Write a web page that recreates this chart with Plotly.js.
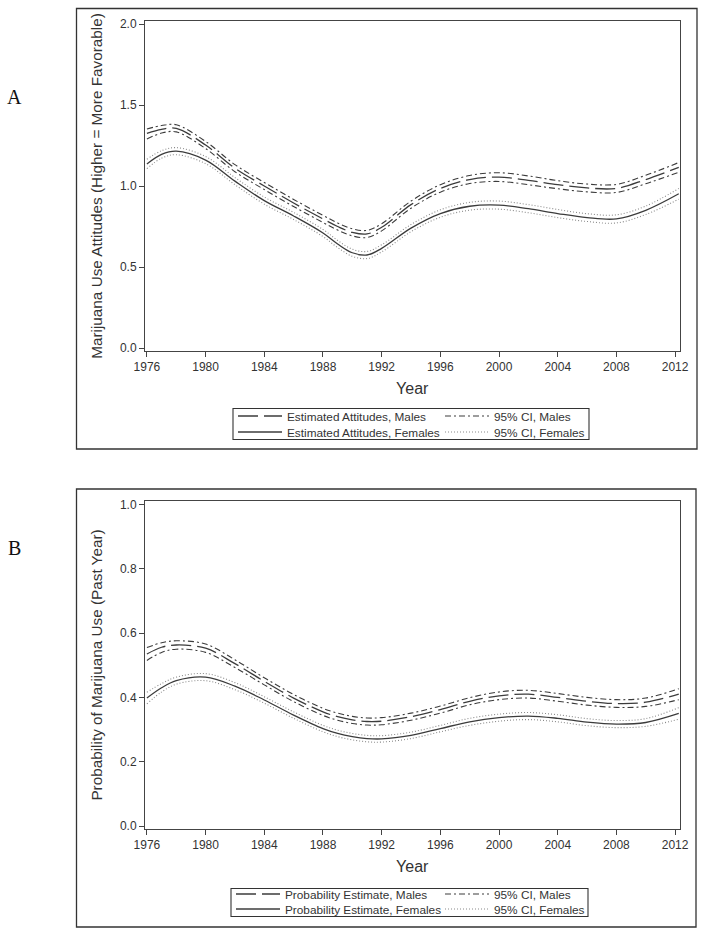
<!DOCTYPE html>
<html>
<head>
<meta charset="utf-8">
<script src="https://cdn.plot.ly/plotly-3.0.1.min.js"></script>
<style>
html,body{margin:0;padding:0;background:#fff;}
#chart{width:704px;height:936px;}
</style>
</head>
<body>
<div id="chart"></div>
<script>
// ---- Data ----
const years = [1976, 1977, 1978, 1980, 1982, 1984, 1986, 1988, 1989, 1990, 1991, 1992, 1994, 1996, 1998, 2000, 2002, 2004, 2006, 2008, 2010, 2012.25];
const xTicks = [1976, 1980, 1984, 1988, 1992, 1996, 2000, 2004, 2008, 2012];

// Panel A: Marijuana use attitudes
const attMaleEst   = [1.325, 1.350, 1.356, 1.253, 1.110, 1.000, 0.895, 0.797, 0.750, 0.714, 0.704, 0.745, 0.885, 0.985, 1.040, 1.055, 1.035, 1.008, 0.988, 0.985, 1.040, 1.115];
const attMaleUpper = [1.352, 1.373, 1.378, 1.275, 1.132, 1.022, 0.917, 0.819, 0.772, 0.736, 0.726, 0.767, 0.907, 1.008, 1.065, 1.082, 1.062, 1.033, 1.012, 1.010, 1.066, 1.145];
const attMaleLower = [1.290, 1.327, 1.334, 1.231, 1.088, 0.978, 0.873, 0.775, 0.728, 0.692, 0.682, 0.723, 0.863, 0.962, 1.015, 1.028, 1.008, 0.983, 0.964, 0.960, 1.014, 1.085];
const attFemEst    = [1.136, 1.195, 1.215, 1.160, 1.030, 0.910, 0.815, 0.710, 0.642, 0.588, 0.574, 0.615, 0.740, 0.830, 0.875, 0.882, 0.860, 0.830, 0.805, 0.797, 0.850, 0.952];
const attFemUpper  = [1.165, 1.218, 1.237, 1.182, 1.052, 0.932, 0.837, 0.732, 0.664, 0.610, 0.596, 0.637, 0.762, 0.853, 0.899, 0.907, 0.885, 0.855, 0.829, 0.822, 0.876, 0.985];
const attFemLower  = [1.107, 1.172, 1.193, 1.138, 1.008, 0.888, 0.793, 0.688, 0.620, 0.566, 0.552, 0.593, 0.718, 0.807, 0.851, 0.857, 0.835, 0.805, 0.781, 0.772, 0.824, 0.919];
const attYTicks = [0, 0.5, 1.0, 1.5, 2.0];

// Panel B: Probability of past-year marijuana use
const probMaleEst   = [0.535, 0.556, 0.563, 0.553, 0.505, 0.450, 0.398, 0.355, 0.340, 0.330, 0.325, 0.326, 0.340, 0.362, 0.388, 0.405, 0.410, 0.400, 0.388, 0.381, 0.385, 0.410];
const probMaleUpper = [0.555, 0.570, 0.576, 0.566, 0.517, 0.461, 0.409, 0.366, 0.351, 0.341, 0.336, 0.337, 0.351, 0.373, 0.399, 0.417, 0.422, 0.412, 0.400, 0.393, 0.398, 0.427];
const probMaleLower = [0.515, 0.540, 0.550, 0.540, 0.493, 0.439, 0.387, 0.344, 0.329, 0.319, 0.314, 0.315, 0.329, 0.351, 0.377, 0.393, 0.398, 0.388, 0.376, 0.369, 0.372, 0.393];
const probFemEst    = [0.398, 0.430, 0.452, 0.463, 0.435, 0.392, 0.345, 0.303, 0.288, 0.278, 0.272, 0.271, 0.282, 0.303, 0.324, 0.337, 0.342, 0.335, 0.323, 0.317, 0.322, 0.350];
const probFemUpper  = [0.416, 0.443, 0.463, 0.474, 0.446, 0.402, 0.355, 0.313, 0.298, 0.288, 0.282, 0.281, 0.292, 0.313, 0.335, 0.348, 0.353, 0.346, 0.334, 0.328, 0.334, 0.368];
const probFemLower  = [0.380, 0.417, 0.441, 0.452, 0.424, 0.382, 0.335, 0.293, 0.278, 0.268, 0.262, 0.261, 0.272, 0.293, 0.313, 0.326, 0.331, 0.324, 0.312, 0.306, 0.310, 0.332];
const probYTicks = [0, 0.2, 0.4, 0.6, 0.8, 1.0];

const namesA = ['Estimated Attitudes, Males', 'Estimated Attitudes, Females', '95% CI, Males', '95% CI, Females'];
const namesB = ['Probability Estimate, Males', 'Probability Estimate, Females', '95% CI, Males', '95% CI, Females'];

// ---- Styles ----
const W = 704, H = 936;
const LINE = '#3c3c3c';
const NARROW = '"Liberation Sans Narrow", "Arial Narrow", "Liberation Sans", Arial, sans-serif';
const SANS = '"Liberation Sans", Arial, sans-serif';
const styleMaleEst = {color: LINE, width: 1.3, dash: '20px,6px', shape: 'spline', smoothing: 1};
const styleFemEst  = {color: LINE, width: 1.3, dash: 'solid', shape: 'spline', smoothing: 1};
const styleMaleCI  = {color: LINE, width: 1.1, dash: '6px,3px,2px,3px', shape: 'spline', smoothing: 1};
const styleFemCI   = {color: '#8a8a8a', width: 1.1, dash: '1px,2px', shape: 'spline', smoothing: 1};

function tr(y, name, line, xa, ya, legend, show, group) {
  return {x: years, y: y, type: 'scatter', mode: 'lines', name: name, line: line,
          xaxis: xa, yaxis: ya, legend: legend, showlegend: show, legendgroup: group, hoverinfo: 'skip'};
}

const data = [
  tr(attMaleEst, namesA[0], styleMaleEst, 'x', 'y', 'legend', true, 'a1'),
  tr(attFemEst, namesA[1], styleFemEst, 'x', 'y', 'legend2', true, 'a2'),
  tr(attMaleUpper, namesA[2], styleMaleCI, 'x', 'y', 'legend3', true, 'a3'),
  tr(attMaleLower, namesA[2], styleMaleCI, 'x', 'y', 'legend3', false, 'a3'),
  tr(attFemUpper, namesA[3], styleFemCI, 'x', 'y', 'legend4', true, 'a4'),
  tr(attFemLower, namesA[3], styleFemCI, 'x', 'y', 'legend4', false, 'a4'),
  tr(probMaleEst, namesB[0], styleMaleEst, 'x2', 'y2', 'legend5', true, 'b1'),
  tr(probFemEst, namesB[1], styleFemEst, 'x2', 'y2', 'legend6', true, 'b2'),
  tr(probMaleUpper, namesB[2], styleMaleCI, 'x2', 'y2', 'legend7', true, 'b3'),
  tr(probMaleLower, namesB[2], styleMaleCI, 'x2', 'y2', 'legend7', false, 'b3'),
  tr(probFemUpper, namesB[3], styleFemCI, 'x2', 'y2', 'legend8', true, 'b4'),
  tr(probFemLower, namesB[3], styleFemCI, 'x2', 'y2', 'legend8', false, 'b4')
];

const px = v => v / W;
const py = v => 1 - v / H;

function xAxis(anchor) {
  return {
    domain: [px(145), px(679.5)], range: [1975.87, 2012.3], anchor: anchor,
    tickmode: 'array', tickvals: xTicks, ticks: 'outside', ticklen: 5, tickcolor: '#444',
    showline: true, mirror: true, linecolor: '#444', linewidth: 1,
    showgrid: false, zeroline: false,
    tickfont: {family: NARROW, size: 12, color: '#333'},
    title: {text: 'Year', font: {family: NARROW, size: 16, color: '#333'}, standoff: 9}
  };
}
function yAxis(anchor, dom, range, ticks, title) {
  return {
    domain: dom, range: range, anchor: anchor,
    tickmode: 'array', tickvals: ticks, tickformat: '.1f', ticks: 'outside', ticklen: 5, tickcolor: '#444',
    showline: true, mirror: true, linecolor: '#444', linewidth: 1,
    showgrid: false, zeroline: false,
    tickfont: {family: NARROW, size: 12, color: '#333'},
    title: {text: title, font: {family: SANS, size: 15.3, color: '#333'}, standoff: 13}
  };
}
function legend(x, y) {
  return {x: px(x), y: py(y), xanchor: 'left', yanchor: 'middle', orientation: 'v',
          bgcolor: 'rgba(0,0,0,0)', borderwidth: 0, itemwidth: 44, tracegroupgap: 0,
          font: {family: NARROW, size: 11.8, color: '#333'}, itemclick: false, itemdoubleclick: false};
}

const layout = {
  width: W, height: H, margin: {l: 0, r: 0, t: 0, b: 0},
  paper_bgcolor: '#fff', plot_bgcolor: '#fff',
  xaxis: xAxis('y'),
  yaxis: yAxis('x', [py(351), py(21)], [-0.0185, 2.0185], attYTicks, 'Marijuana Use Attitudes (Higher = More Favorable)'),
  xaxis2: xAxis('y2'),
  yaxis2: yAxis('x2', [py(829), py(501)], [-0.0093, 1.0109], probYTicks, 'Probability of Marijuana Use (Past Year)'),
  legend: legend(233, 416),
  legend2: legend(233, 432),
  legend3: legend(440, 416),
  legend4: legend(440, 432),
  legend5: legend(231, 894),
  legend6: legend(231, 909),
  legend7: legend(440, 894),
  legend8: legend(440, 909),
  shapes: [
    {type: 'rect', xref: 'paper', yref: 'paper', x0: px(76.5), x1: px(697), y0: py(449), y1: py(8.5), line: {color: '#333', width: 1.3}},
    {type: 'rect', xref: 'paper', yref: 'paper', x0: px(76.5), x1: px(696), y0: py(927), y1: py(489), line: {color: '#333', width: 1.3}},
    {type: 'rect', xref: 'paper', yref: 'paper', x0: px(233), x1: px(589), y0: py(439.5), y1: py(408.5), line: {color: '#333', width: 1.1}},
    {type: 'rect', xref: 'paper', yref: 'paper', x0: px(231), x1: px(588), y0: py(916.5), y1: py(888.5), line: {color: '#333', width: 1.1}}
  ],
  annotations: [
    {text: 'A', xref: 'paper', yref: 'paper', x: px(15), y: py(97), xanchor: 'center', yanchor: 'middle', showarrow: false,
     font: {family: '"Liberation Serif", "Times New Roman", serif', size: 20, color: '#111'}},
    {text: 'B', xref: 'paper', yref: 'paper', x: px(15), y: py(548), xanchor: 'center', yanchor: 'middle', showarrow: false,
     font: {family: '"Liberation Serif", "Times New Roman", serif', size: 20, color: '#111'}}
  ]
};

Plotly.newPlot('chart', data, layout, {staticPlot: true, displayModeBar: false});
</script>
</body>
</html>
